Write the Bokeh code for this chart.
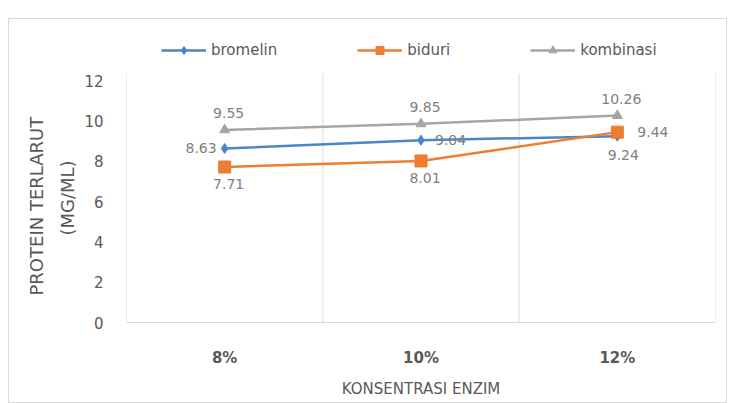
from bokeh.plotting import figure
from bokeh.models import FixedTicker, Legend, LegendItem, Title, ColumnDataSource
from bokeh.embed import file_html
from bokeh.resources import INLINE
from bokeh.core.properties import value

categories = ["8%", "10%", "12%"]
bromelin = [8.63, 9.04, 9.24]
biduri = [7.71, 8.01, 9.44]
kombinasi = [9.55, 9.85, 10.26]
y_ticks = [0, 2, 4, 6, 8, 10, 12]

FONT = "DejaVu Sans"
TXT = "#595959"
LBL = "#808080"
C_BROM = "#4A86C8"
C_BID = "#ED7D31"
C_KOMB = "#A5A5A5"
GRID = "#D9D9D9"

xs = [i + 0.5 for i in range(len(categories))]
bounds = list(range(len(categories) + 1))
y_top = 12.35

p = figure(width=719, height=385, output_backend="svg", toolbar_location=None,
           x_range=(0, len(categories)), y_range=(0, 14.48),
           min_border_left=117, min_border_right=13, min_border_top=11, min_border_bottom=82)
p.margin = (18, 6, 0, 8)
p.styles = {"border": "1px solid #D9D9D9"}
p.outline_line_color = None
p.background_fill_color = "white"
p.border_fill_color = "white"

# grid: vertical lines at category boundaries, up to the plot-area top
p.xgrid.visible = False
p.ygrid.visible = False
p.segment(x0=bounds, y0=[0] * len(bounds), x1=bounds, y1=[y_top] * len(bounds),
          line_color=GRID, line_width=1)

# x axis
p.xaxis.ticker = FixedTicker(ticks=xs)
p.xaxis.major_label_overrides = {x: c for x, c in zip(xs, categories)}
p.xaxis.major_label_text_font = FONT
p.xaxis.major_label_text_font_style = "bold"
p.xaxis.major_label_text_font_size = "15px"
p.xaxis.major_label_text_color = TXT
p.xaxis.major_label_standoff = 20
p.xaxis.axis_line_color = GRID
p.xaxis.major_tick_line_color = None
p.xaxis.minor_tick_line_color = None
p.xaxis.axis_label = "KONSENTRASI ENZIM"
p.xaxis.axis_label_text_font = FONT
p.xaxis.axis_label_text_font_style = "normal"
p.xaxis.axis_label_text_font_size = "15px"
p.xaxis.axis_label_text_color = TXT
p.xaxis.axis_label_standoff = 10

# y axis
p.yaxis.ticker = FixedTicker(ticks=y_ticks)
p.yaxis.axis_line_color = None
p.yaxis.major_tick_line_color = None
p.yaxis.minor_tick_line_color = None
p.yaxis.major_label_text_font = FONT
p.yaxis.major_label_text_font_size = "15px"
p.yaxis.major_label_text_color = TXT
p.yaxis.major_label_standoff = 17

# series
series = [
    ("bromelin", bromelin, C_BROM, "diamond", 10),
    ("biduri", biduri, C_BID, "square", 12),
    ("kombinasi", kombinasi, C_KOMB, "triangle", 10),
]
items = []
for name, vals, col, mk, sz in series:
    src = ColumnDataSource(dict(x=xs, y=vals))
    ln = p.line("x", "y", source=src, line_color=col, line_width=2.5)
    sc = p.scatter("x", "y", source=src, marker=mk, size=sz, fill_color=col, line_color=col)
    items.append(LegendItem(label=name, renderers=[ln, sc]))

# data labels
def add_labels(vals, idx, dx, dy, align):
    src = ColumnDataSource(dict(x=[xs[i] for i in idx], y=[vals[i] for i in idx],
                                t=[f"{vals[i]:.2f}" for i in idx]))
    p.text("x", "y", text="t", source=src, x_offset=dx, y_offset=dy,
           text_align=align, text_baseline="middle", text_color=LBL,
           text_font=value(FONT), text_font_size="14px")

add_labels(kombinasi, [0, 1, 2], 4, -17, "center")
add_labels(bromelin, [0], -8, 0, "right")
add_labels(bromelin, [1], 14, 0, "left")
add_labels(bromelin, [2], 6, 19, "center")
add_labels(biduri, [0, 1], 4, 17, "center")
add_labels(biduri, [2], 20, 0, "left")

legend = Legend(items=items, orientation="horizontal", location=(35, 262),
                glyph_width=45, glyph_height=20, label_height=20, label_standoff=5,
                spacing=80, padding=0, margin=0,
                border_line_color=None, background_fill_alpha=0,
                label_text_font=FONT, label_text_font_size="15px",
                label_text_color=TXT)
p.add_layout(legend, "center")

# y axis title (two lines)
p.add_layout(Title(text="(MG/ML)", align="left", offset=87, text_font=FONT, text_font_size="18px",
                   text_font_style="normal", text_color=TXT, standoff=8), "left")
p.add_layout(Title(text="PROTEIN TERLARUT", align="left", offset=27, text_font=FONT, text_font_size="18px",
                   text_font_style="normal", text_color=TXT, standoff=8), "left")

open("out.html", "w").write(file_html(p, INLINE))
